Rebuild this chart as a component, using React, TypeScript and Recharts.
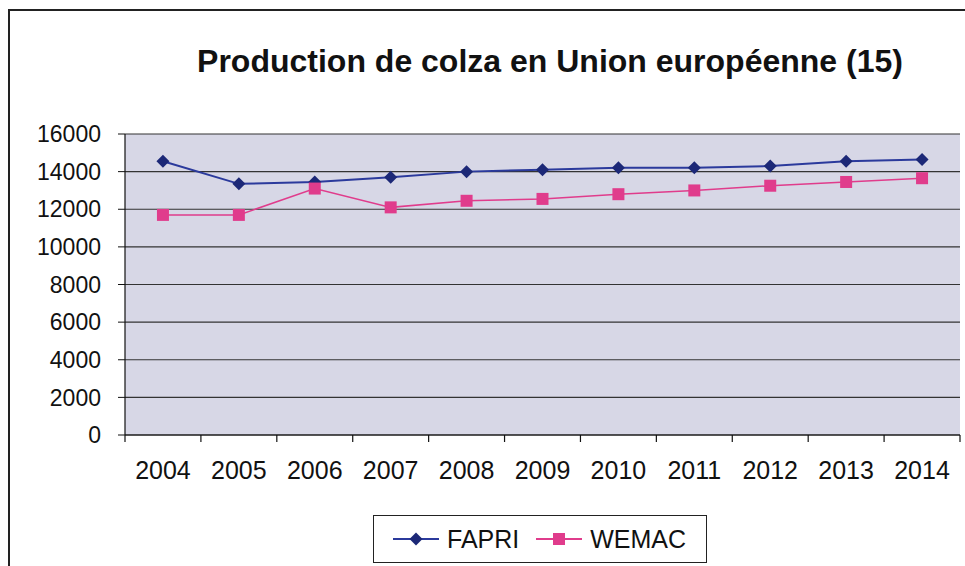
import { CartesianGrid, Legend, Line, LineChart, XAxis, YAxis } from 'recharts'

const years = ['2004', '2005', '2006', '2007', '2008', '2009', '2010', '2011', '2012', '2013', '2014']
const fapri = [14550, 13350, 13450, 13700, 14000, 14100, 14200, 14200, 14300, 14550, 14650]
const wemac = [11700, 11700, 13100, 12100, 12450, 12550, 12800, 13000, 13250, 13450, 13650]
const yTicks = [0, 2000, 4000, 6000, 8000, 10000, 12000, 14000, 16000]

const FONT = '"Liberation Sans", Arial, sans-serif'
const BLUE = '#2b3a9c'
const BLUE_DARK = '#1c2877'
const PINK = '#e03c8c'

// numeric x so tick marks can sit between the years, like the Excel original
const data = years.map((year, i) => ({ x: i + 0.5, year, FAPRI: fapri[i], WEMAC: wemac[i] }))
const xTicks = years.flatMap((_, i) => [i, i + 0.5]).concat(years.length)

function XTick({ x, y, payload }: any) {
  const v = payload.value as number
  if (Number.isInteger(v)) {
    return <line x1={x} x2={x} y1={y} y2={y + 7} stroke="#111" strokeWidth={1.2} />
  }
  return (
    <text x={x} y={y + 44} textAnchor="middle" fontSize={25} fontFamily={FONT} fill="#111">
      {years[Math.floor(v)]}
    </text>
  )
}

function Diamond({ cx, cy, fill }: any) {
  const r = 6.5
  return <path d={`M${cx},${cy - r}L${cx + r},${cy}L${cx},${cy + r}L${cx - r},${cy}Z`} fill={fill} />
}

function Square({ cx, cy, fill }: any) {
  const r = 6
  return <rect x={cx - r} y={cy - r} width={r * 2} height={r * 2} fill={fill} />
}

function LegendBox() {
  const item = (name: string, color: string, marker: React.ReactNode, gap: number) => (
    <span style={{ display: 'inline-flex', alignItems: 'center', marginLeft: gap }}>
      <svg width={48} height={20}>
        <line x1={1} x2={47} y1={10} y2={10} stroke={color} strokeWidth={2} />
        {marker}
      </svg>
      <span style={{ marginLeft: 7 }}>{name}</span>
    </span>
  )
  return (
    <div
      style={{
        border: '1.5px solid #222',
        background: '#fff',
        width: 334,
        height: 48,
        boxSizing: 'border-box',
        display: 'flex',
        alignItems: 'center',
        paddingLeft: 18,
        fontFamily: FONT,
        fontSize: 25,
        color: '#111',
      }}
    >
      {item('FAPRI', BLUE, <Diamond cx={24} cy={10} fill={BLUE_DARK} />, 0)}
      {item('WEMAC', PINK, <Square cx={24} cy={10} fill={PINK} />, 16)}
    </div>
  )
}

export default function App() {
  return (
    <div style={{ position: 'absolute', left: 0, top: 0, width: 965, height: 566, overflow: 'hidden', background: '#fff' }}>
      <div
        style={{
          position: 'absolute',
          left: 8,
          top: 9,
          width: 1000,
          height: 700,
          borderLeft: '2px solid #222',
          borderTop: '2px solid #222',
        }}
      />
      <div
        style={{
          position: 'absolute',
          left: 0,
          top: 43,
          width: 1100,
          textAlign: 'center',
          fontFamily: FONT,
          fontWeight: 'bold',
          fontSize: 32,
          color: '#111',
        }}
      >
        Production de colza en Union européenne (15)
      </div>
      <LineChart
        width={965}
        height={566}
        data={data}
        margin={{ top: 134, right: 5, left: 0, bottom: 71 }}
        style={{ position: 'absolute', left: 0, top: 0 }}
      >
        <CartesianGrid vertical={false} fill="#d7d7e6" stroke="#333" strokeWidth={1.2} />
        <XAxis
          dataKey="x"
          type="number"
          domain={[0, years.length]}
          ticks={xTicks}
          interval={0}
          height={60}
          tickSize={0}
          tickMargin={0}
          tickLine={false}
          tick={<XTick />}
          axisLine={{ stroke: '#111', strokeWidth: 1.2 }}
        />
        <YAxis
          width={125}
          domain={[0, 16000]}
          ticks={yTicks}
          interval={0}
          tickSize={7}
          tickMargin={17}
          tickLine={{ stroke: '#111' }}
          axisLine={{ stroke: '#111', strokeWidth: 1.2 }}
          tick={{ fontSize: 23, fontFamily: FONT, fill: '#111' }}
        />
        <Legend
          layout="horizontal"
          verticalAlign="middle"
          align="center"
          content={<LegendBox />}
          wrapperStyle={{ position: 'absolute', left: 373, top: 515, width: 334 }}
        />
        <Line
          dataKey="FAPRI"
          stroke={BLUE}
          strokeWidth={2}
          dot={<Diamond fill={BLUE_DARK} />}
          activeDot={false}
          isAnimationActive={false}
        />
        <Line
          dataKey="WEMAC"
          stroke={PINK}
          strokeWidth={1.5}
          dot={<Square fill={PINK} />}
          activeDot={false}
          isAnimationActive={false}
        />
      </LineChart>
    </div>
  )
}
